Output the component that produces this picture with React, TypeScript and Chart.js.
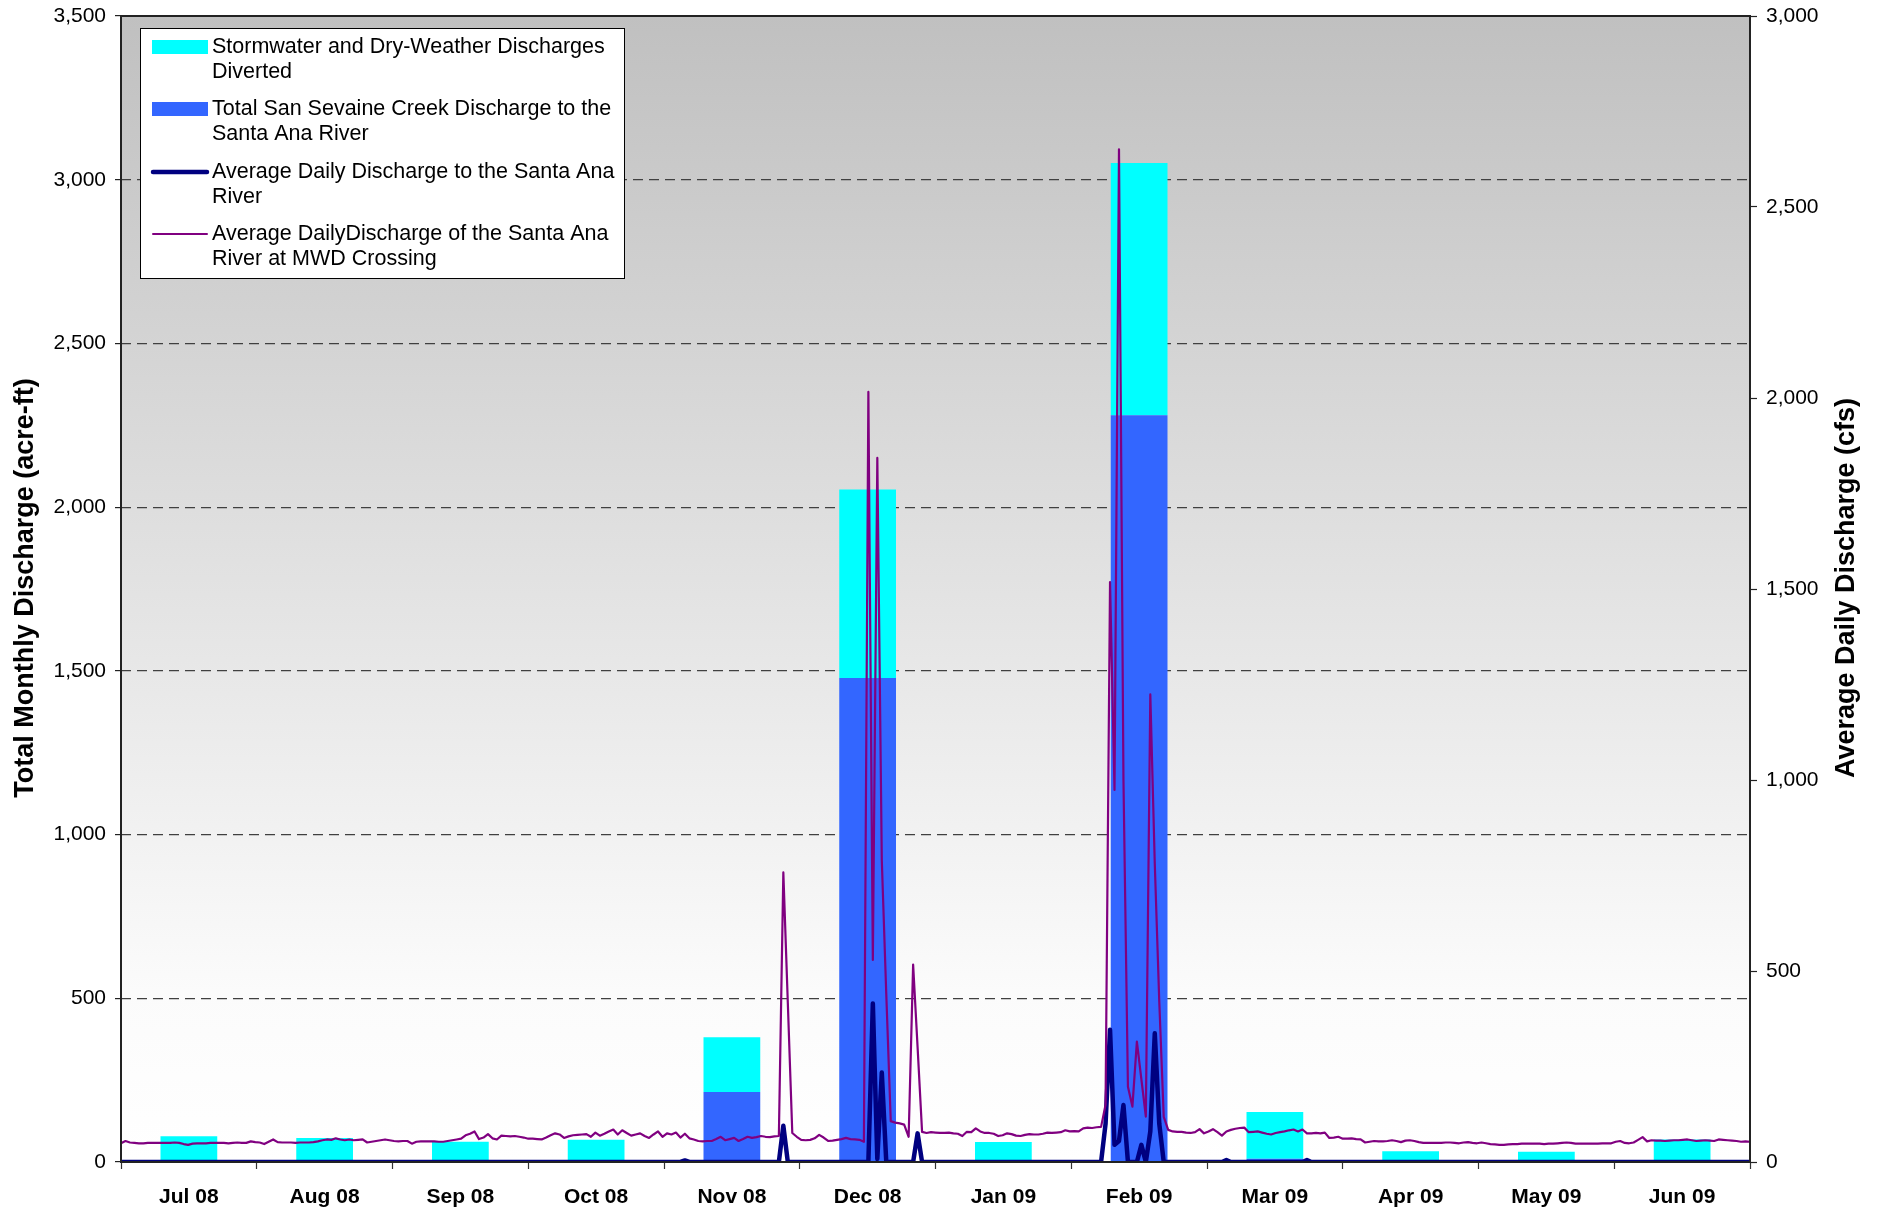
import React, { useEffect, useRef } from "react";
import { Chart, registerables } from "chart.js";

Chart.register(...registerables);

// ---- Data ----
const MONTHS = ["Jul 08", "Aug 08", "Sep 08", "Oct 08", "Nov 08", "Dec 08", "Jan 09", "Feb 09", "Mar 09", "Apr 09", "May 09", "Jun 09"];
// Total San Sevaine Creek Discharge to the Santa Ana River (acre-ft)
const CREEK_TO_RIVER = [0, 0, 0, 0, 214, 1478, 0, 2281, 10, 0, 0, 0];
// Stormwater and Dry-Weather Discharges Diverted (acre-ft)
const DIVERTED = [79, 73, 62, 68, 167, 576, 61, 770, 143, 33, 31, 69];

const LEFT_MAX = 3500;
const RIGHT_MAX = 3000;
const TICK_STEP = 500;

// Average Daily Discharge to the Santa Ana River (cfs), day index from Jul 1 2008
const NAVY_DAYS = [0, 125, 126, 127, 147, 148, 149, 167, 168, 169, 170, 171, 177, 178, 179, 219, 220, 221, 222, 223, 224, 225, 227, 228, 229, 230, 231, 232, 233, 246, 247, 248, 264, 265, 266, 364];
const NAVY_CFS = [0, 0, 4, 0, 0, 95, 0, 0, 415, 8, 234, 0, 0, 75, 0, 0, 100, 346, 45, 55, 149, 0, 0, 45, 0, 80, 337, 100, 0, 0, 5, 0, 0, 5, 0, 0];

// Average Daily Discharge of the Santa Ana River at MWD Crossing (cfs)
const MWD_JUL = [49, 55, 51, 50, 49, 49, 50, 50, 50, 50, 50, 50, 51, 50, 47, 45, 48, 49, 49, 49, 50, 50, 50, 50, 49, 50, 51, 50, 50, 54, 52];
const MWD_AUG = [51, 47, 53, 59, 52, 51, 51, 51, 50, 51, 51, 51, 52, 54, 57, 59, 58, 62, 59, 57, 59, 57, 58, 59, 51, 53, 55, 57, 59, 57, 55];
const MWD_SEP = [54, 55, 55, 48, 53, 54, 54, 54, 54, 53, 53, 55, 57, 59, 61, 70, 74, 80, 60, 64, 73, 62, 59, 69, 68, 67, 68, 66, 64, 61];
const MWD_OCT = [61, 60, 59, 64, 70, 75, 72, 63, 67, 70, 71, 72, 73, 66, 77, 69, 74, 80, 85, 72, 83, 76, 69, 72, 75, 68, 63, 72, 80, 66, 75];
const MWD_NOV = [72, 77, 64, 74, 62, 59, 55, 54, 55, 55, 60, 66, 57, 60, 63, 55, 60, 66, 63, 65, 68, 66, 65, 67, 68, 758, 417, 76, 66, 58];
const MWD_DEC = [57, 58, 62, 71, 64, 55, 56, 58, 60, 63, 60, 59, 58, 53, 2016, 529, 1843, 790, 440, 107, 103, 101, 98, 66, 517, 300, 79, 76, 78, 77, 76];
const MWD_JAN = [76, 77, 75, 74, 68, 79, 78, 88, 80, 76, 76, 74, 68, 70, 75, 73, 69, 68, 71, 73, 72, 72, 74, 77, 76, 77, 78, 83, 80, 81, 80];
const MWD_FEB = [88, 90, 89, 91, 92, 150, 1518, 974, 2651, 1000, 197, 145, 315, 217, 119, 1224, 780, 420, 118, 84, 80, 79, 79, 77, 76, 78, 86, 75];
const MWD_MAR = [80, 86, 78, 69, 80, 84, 87, 89, 90, 78, 79, 80, 77, 74, 72, 76, 78, 80, 83, 85, 80, 85, 75, 75, 76, 75, 77, 63, 64, 66, 61];
const MWD_APR = [61, 62, 60, 59, 51, 53, 55, 54, 54, 55, 57, 55, 52, 56, 57, 55, 52, 50, 50, 50, 50, 50, 51, 51, 50, 49, 51, 52, 50, 49];
const MWD_MAY = [51, 49, 47, 46, 45, 45, 46, 47, 47, 48, 48, 48, 48, 48, 47, 48, 48, 49, 50, 51, 50, 48, 48, 48, 48, 48, 48, 49, 49, 49, 53];
const MWD_JUN = [55, 50, 49, 51, 58, 65, 54, 57, 56, 56, 55, 56, 57, 57, 58, 59, 57, 55, 56, 57, 56, 55, 59, 58, 57, 56, 55, 53, 54, 53];

const LEGEND_ITEMS = [
  ["Stormwater and Dry-Weather Discharges", "Diverted"],
  ["Total San Sevaine Creek Discharge to the", "Santa Ana River"],
  ["Average Daily Discharge to the Santa Ana", "River"],
  ["Average DailyDischarge of the Santa Ana", "River at MWD Crossing"],
];

const LEFT_TITLE = "Total Monthly Discharge (acre-ft)";
const RIGHT_TITLE = "Average Daily Discharge (cfs)";

// ---- Styles ----
const FONT = "'Liberation Sans', Arial, sans-serif";
const CYAN = "#00FFFF";
const BLUE = "#3366FF";
const NAVY = "#000080";
const PURPLE = "#800080";

const W = 1881;
const H = 1211;

const bgPlugin = {
  id: "bgGradient",
  beforeDraw(chart: any) {
    const { ctx, chartArea: a } = chart;
    const g = ctx.createLinearGradient(0, a.top, 0, a.bottom);
    g.addColorStop(0, "#c0c0c0");
    g.addColorStop(0.85, "#fbfbfb");
    g.addColorStop(1, "#ffffff");
    ctx.save();
    ctx.fillStyle = g;
    ctx.fillRect(a.left, a.top, a.right - a.left, a.bottom - a.top);
    ctx.restore();
  },
};

const framePlugin = {
  id: "frameAndLegend",
  afterDraw(chart: any) {
    const { ctx, chartArea: a } = chart;
    ctx.save();
    // plot frame
    ctx.strokeStyle = "#222";
    ctx.lineWidth = 2;
    ctx.strokeRect(a.left, a.top, a.right - a.left, a.bottom - a.top);

    // axis titles (both read bottom to top)
    ctx.fillStyle = "#000";
    ctx.font = `bold 27px ${FONT}`;
    ctx.textAlign = "center";
    ctx.textBaseline = "middle";
    const cy = (a.top + a.bottom) / 2;
    ctx.save();
    ctx.translate(26, cy - 1);
    ctx.rotate(-Math.PI / 2);
    ctx.fillText(LEFT_TITLE, 0, 0);
    ctx.restore();
    ctx.save();
    ctx.translate(1847, cy - 1);
    ctx.rotate(-Math.PI / 2);
    ctx.fillText(RIGHT_TITLE, 0, 0);
    ctx.restore();

    // legend
    const lx = 140, ly = 28, lw = 484, lh = 250;
    ctx.fillStyle = "#fff";
    ctx.fillRect(lx, ly, lw, lh);
    ctx.strokeStyle = "#000";
    ctx.lineWidth = 1;
    ctx.strokeRect(lx + 0.5, ly + 0.5, lw, lh);
    const rowY = [47, 109, 172, 234];
    ctx.font = `21.5px ${FONT}`;
    ctx.textAlign = "left";
    ctx.textBaseline = "middle";
    LEGEND_ITEMS.forEach((lines, i) => {
      const y = rowY[i];
      if (i === 0 || i === 1) {
        ctx.fillStyle = i === 0 ? CYAN : BLUE;
        ctx.fillRect(152, y - 7, 56, 14);
      } else {
        ctx.strokeStyle = i === 2 ? NAVY : PURPLE;
        ctx.lineWidth = i === 2 ? 4.5 : 2;
        ctx.lineCap = "round";
        ctx.beginPath();
        ctx.moveTo(153, y);
        ctx.lineTo(207, y);
        ctx.stroke();
      }
      ctx.fillStyle = "#000";
      lines.forEach((t, j) => ctx.fillText(t, 212, y + j * 25));
    });
    ctx.restore();
  },
};

const fmt = (v: any) => Number(v).toLocaleString("en-US");

const fitVertical = (width: number) => (s: any) => {
  s.width = width;
  s.paddingTop = 0;
  s.paddingBottom = 0;
};

export default function App() {
  const ref = useRef<HTMLCanvasElement | null>(null);

  useEffect(() => {
    if (!ref.current) return;
    const mwd = [
      ...MWD_JUL, ...MWD_AUG, ...MWD_SEP, ...MWD_OCT, ...MWD_NOV, ...MWD_DEC,
      ...MWD_JAN, ...MWD_FEB, ...MWD_MAR, ...MWD_APR, ...MWD_MAY, ...MWD_JUN,
    ].map((v, i) => ({ x: i, y: v }));
    const navy = NAVY_DAYS.map((d, i) => ({ x: d, y: NAVY_CFS[i] }));

    const barCommon = {
      type: "bar",
      borderWidth: 0,
      xAxisID: "x",
      yAxisID: "y",
      order: 5,
      grouped: false,
      barPercentage: 0.418,
      categoryPercentage: 1,
    };

    const chart = new Chart(ref.current, {
      type: "bar",
      data: {
        labels: MONTHS,
        datasets: [
          {
            ...barCommon,
            label: "Total San Sevaine Creek Discharge to the Santa Ana River",
            data: CREEK_TO_RIVER,
            backgroundColor: BLUE,
          },
          {
            ...barCommon,
            label: "Stormwater and Dry-Weather Discharges Diverted",
            data: DIVERTED,
            backgroundColor: CYAN,
          },
          {
            type: "line",
            label: "Average Daily Discharge to the Santa Ana River",
            data: navy as any,
            borderColor: NAVY,
            borderWidth: 4.5,
            pointRadius: 0,
            tension: 0,
            borderJoinStyle: "round",
            borderCapStyle: "round",
            xAxisID: "xd",
            yAxisID: "y2",
            order: 1,
          },
          {
            type: "line",
            label: "Average DailyDischarge of the Santa Ana River at MWD Crossing",
            data: mwd as any,
            borderColor: PURPLE,
            borderWidth: 2.2,
            pointRadius: 0,
            tension: 0,
            borderJoinStyle: "round",
            xAxisID: "xd",
            yAxisID: "y2",
            order: 0,
          },
        ] as any,
      },
      options: {
        responsive: false,
        animation: false,
        devicePixelRatio: 1,
        layout: { padding: { top: 16, left: 0, right: 0, bottom: 0 } },
        plugins: { legend: { display: false }, tooltip: { enabled: false } },
        scales: {
          x: {
            type: "category",
            position: "bottom",
            stacked: true,
            offset: true,
            grid: {
              offset: true,
              drawOnChartArea: false,
              drawTicks: true,
              tickLength: 7,
              color: "#000",
              tickColor: "#333",
              tickWidth: 1.2,
            },
            border: { display: false },
            ticks: {
              color: "#000",
              padding: 16,
              maxRotation: 0,
              autoSkip: false,
              font: { family: FONT, size: 21, weight: "bold" },
            },
            afterFit: (s: any) => { s.height = 49; s.paddingLeft = 0; s.paddingRight = 0; },
          },
          xd: {
            type: "linear",
            display: false,
            offset: false,
            grid: { offset: false },
            min: 0,
            max: 364,
          },
          y: {
            type: "linear",
            position: "left",
            stacked: true,
            min: 0,
            max: LEFT_MAX,
            ticks: {
              stepSize: TICK_STEP,
              color: "#000",
              padding: 9,
              font: { family: FONT, size: 21 },
              callback: fmt,
            },
            grid: {
              drawOnChartArea: true,
              drawTicks: true,
              tickLength: 6,
              lineWidth: 1.2,
              color: (c: any) => (c.tick && (c.tick.value === 0 || c.tick.value === LEFT_MAX) ? "rgba(0,0,0,0)" : "#404040"),
              tickColor: "#222",
              tickWidth: 1.2,
            },
            border: { display: false, dash: [10, 6] },
            afterFit: fitVertical(121),
          },
          y2: {
            type: "linear",
            position: "right",
            min: 0,
            max: RIGHT_MAX,
            ticks: {
              stepSize: TICK_STEP,
              color: "#000",
              padding: 9,
              font: { family: FONT, size: 21 },
              callback: fmt,
            },
            grid: {
              drawOnChartArea: false,
              drawTicks: true,
              tickLength: 7,
              tickColor: "#222",
              tickWidth: 1.2,
            },
            border: { display: false },
            afterFit: fitVertical(W - 1750),
          },
        },
      } as any,
      plugins: [bgPlugin, framePlugin],
    });
    return () => chart.destroy();
  }, []);

  return (
    <div style={{ position: "absolute", left: 0, top: 0, width: W, height: H, background: "#fff" }}>
      <canvas ref={ref} width={W} height={H} style={{ display: "block", width: W, height: H }} />
    </div>
  );
}
